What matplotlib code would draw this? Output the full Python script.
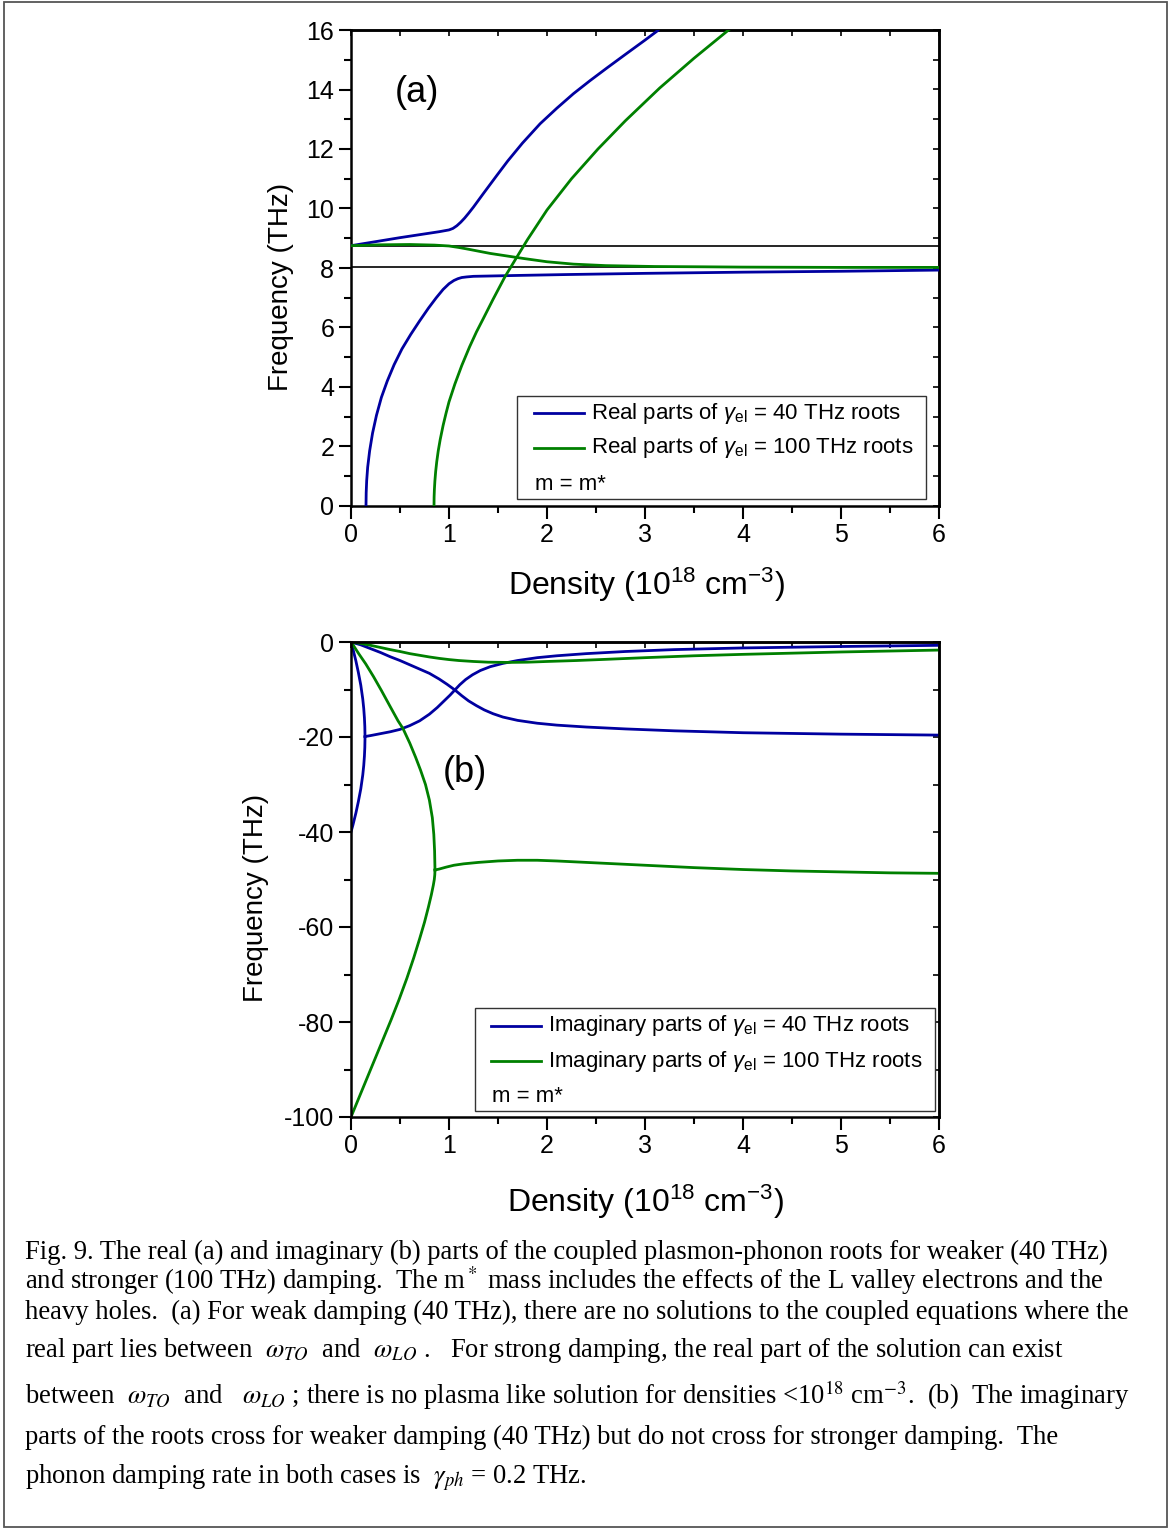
import matplotlib
matplotlib.use("Agg")
import matplotlib.pyplot as plt
from matplotlib.lines import Line2D
from matplotlib.patches import Rectangle
from matplotlib.ticker import MultipleLocator

plt.rcParams['font.family'] = ['Liberation Sans', 'DejaVu Sans']
plt.rcParams['mathtext.fontset'] = 'custom'
plt.rcParams['mathtext.rm'] = 'Liberation Sans'
plt.rcParams['mathtext.it'] = 'Liberation Sans:italic'
plt.rcParams['mathtext.bf'] = 'Liberation Sans:bold'
plt.rcParams['axes.unicode_minus'] = False

# ---------------- panel (a): real parts (THz) vs density (1e18 cm^-3)
omega_TO = 8.02
omega_LO = 8.74

re40_upper_n = [0, 0.5, 0.9, 1.0, 1.04, 1.08, 1.12, 1.16, 1.2, 1.25, 1.35, 1.49, 1.6,
                1.75, 1.93, 2.1, 2.27, 2.44, 2.61, 2.8, 3.0, 3.13, 3.14]
re40_upper_f = [8.75, 9.02, 9.22, 9.28, 9.33, 9.42, 9.54, 9.68, 9.84, 10.05, 10.5,
                11.12, 11.6, 12.2, 12.85, 13.37, 13.86, 14.3, 14.72, 15.18, 15.66,
                15.98, 16.02]

re40_lower_n = [0.153, 0.155, 0.16, 0.17, 0.19, 0.22, 0.26, 0.31, 0.37, 0.44, 0.52,
                0.61, 0.70, 0.79, 0.87, 0.94, 1.0, 1.05, 1.09, 1.13, 1.18, 1.25, 1.4,
                1.7, 2.2, 3.0, 4.0, 5.0, 6.0]
re40_lower_f = [0, 0.45, 0.85, 1.3, 1.85, 2.45, 3.05, 3.65, 4.2, 4.75, 5.28, 5.77,
                6.22, 6.65, 7.0, 7.28, 7.47, 7.58, 7.64, 7.68, 7.70, 7.72, 7.73, 7.75,
                7.78, 7.82, 7.86, 7.89, 7.93]

re100_phonon_n = [0, 0.3, 0.6, 0.85, 1.0, 1.1, 1.2, 1.31, 1.42, 1.6, 1.76, 2.0, 2.27,
                  2.6, 3.1, 3.6, 4.0, 5.0, 6.0]
re100_phonon_f = [8.75, 8.78, 8.79, 8.77, 8.74, 8.69, 8.63, 8.56, 8.49, 8.40, 8.32,
                  8.21, 8.13, 8.08, 8.05, 8.04, 8.03, 8.02, 8.02]

re100_plasma_n = [0.847, 0.848, 0.851, 0.856, 0.864, 0.875, 0.89, 0.91, 0.94, 0.97,
                  1.0, 1.06, 1.13, 1.21, 1.28, 1.35, 1.45, 1.57, 1.68, 1.8, 2.0, 2.25,
                  2.52, 2.8, 3.15, 3.5, 3.86]
re100_plasma_f = [0, 0.3, 0.56, 0.84, 1.16, 1.49, 1.85, 2.23, 2.71, 3.12, 3.5, 4.1,
                  4.72, 5.35, 5.85, 6.3, 6.95, 7.7, 8.3, 8.95, 9.95, 11.0, 12.0,
                  12.95, 14.05, 15.05, 16.02]

# ---------------- panel (b): imaginary parts (THz)
im40_phonon_n = [0, 0.1, 0.2, 0.3, 0.4, 0.5, 0.6, 0.7, 0.8, 0.9, 0.98, 1.06, 1.13,
                 1.2, 1.28, 1.36, 1.45, 1.55, 1.7, 1.9, 2.1, 2.4, 2.8, 3.3, 4.0, 5.0, 6.0]
im40_phonon_f = [0, -0.6, -1.4, -2.2, -3.1, -3.9, -4.8, -5.7, -6.6, -7.8, -8.9, -10.1,
                 -11.3, -12.4, -13.4, -14.3, -15.1, -15.8, -16.5, -17.1, -17.5, -17.9,
                 -18.3, -18.7, -19.1, -19.4, -19.6]

im40_top_n = [0, 0.02, 0.05, 0.075, 0.1, 0.12, 0.13, 0.137, 0.141, 0.143]
im40_top_f = [0, -1.5, -4.0, -6.4, -9.1, -12.0, -14.0, -16.0, -17.8, -19.9]

im40_bot_n = [0, 0.02, 0.05, 0.075, 0.1, 0.12, 0.13, 0.137, 0.141, 0.143]
im40_bot_f = [-40, -38.5, -36.0, -33.6, -30.9, -28.0, -26.0, -24.0, -22.2, -20.1]

im40_pair_n = [0.143, 0.2, 0.3, 0.4, 0.5, 0.6, 0.7, 0.8, 0.88, 0.95, 1.01, 1.06,
               1.11, 1.17, 1.24, 1.32, 1.42, 1.55, 1.7, 1.9, 2.1, 2.4, 2.8, 3.3, 4.0,
               5.0, 6.0]
im40_pair_f = [-19.9, -19.7, -19.3, -18.9, -18.4, -17.6, -16.6, -15.2, -13.8, -12.4,
               -11.2, -10.1, -9.0, -7.9, -6.9, -6.0, -5.2, -4.5, -3.9, -3.3, -2.9,
               -2.45, -2.0, -1.6, -1.25, -0.95, -0.7]

im100_phonon_n = [0, 0.1, 0.2, 0.3, 0.4, 0.5, 0.6, 0.7, 0.8, 0.9, 1.0, 1.1, 1.25, 1.4,
                  1.6, 1.8, 2.0, 2.3, 2.6, 3.0, 3.5, 4.0, 4.5, 5.0, 5.5, 6.0]
im100_phonon_f = [0, -0.3, -0.7, -1.15, -1.6, -2.0, -2.45, -2.8, -3.15, -3.45, -3.7,
                  -3.9, -4.1, -4.25, -4.3, -4.25, -4.1, -3.9, -3.65, -3.3, -2.9, -2.6,
                  -2.35, -2.1, -1.9, -1.7]

im100_top_n = [0, 0.03, 0.08, 0.15, 0.23, 0.31, 0.4, 0.48, 0.53, 0.6, 0.66, 0.71,
               0.76, 0.8, 0.83, 0.845, 0.853, 0.857]
im100_top_f = [0, -0.9, -2.5, -4.6, -7.3, -10.2, -13.6, -16.6, -18.2, -21.3, -24.3,
               -27.0, -30.0, -33.3, -37.0, -40.5, -44.0, -48.0]

im100_bot_n = [0, 0.04, 0.1, 0.17, 0.25, 0.33, 0.41, 0.49, 0.57, 0.64, 0.7, 0.75,
               0.79, 0.82, 0.84, 0.85, 0.855, 0.857]
im100_bot_f = [-100, -98, -95, -91.5, -87.5, -83.5, -79.5, -75.3, -70.8, -66.5, -62.5,
               -59, -55.8, -53.2, -51.2, -50, -49, -48]

im100_pair_n = [0.857, 0.9, 0.97, 1.05, 1.15, 1.3, 1.5, 1.7, 1.9, 2.1, 2.4, 2.7, 3.0,
                3.5, 4.0, 4.5, 5.0, 5.5, 6.0]
im100_pair_f = [-48.0, -47.8, -47.4, -47.0, -46.7, -46.4, -46.1, -45.95, -45.95,
                -46.1, -46.4, -46.7, -47.0, -47.5, -47.9, -48.2, -48.4, -48.6, -48.7]

BLUE = '#0000A0'
GREEN = '#008000'
LW = 2.0

W, H = 1170, 1529
fig = plt.figure(figsize=(W / 100, H / 100), dpi=100)


def fx(px):
    return px / W


def fy(py):
    return 1 - py / H


def make_axes(top_px, bottom_px):
    ax = fig.add_axes([fx(351), fy(bottom_px), fx(939) - fx(351), fy(top_px) - fy(bottom_px)])
    for s in ax.spines.values():
        s.set_linewidth(1.8)
    ax.tick_params(which='major', direction='out', length=9, width=1.5, labelsize=18, pad=3)
    ax.tick_params(which='minor', direction='out', length=5, width=1.5)
    ax.set_xlim(0, 6)
    ax.xaxis.set_major_locator(MultipleLocator(1))
    ax.xaxis.set_minor_locator(MultipleLocator(0.5))
    top = ax.secondary_xaxis('top')
    top.xaxis.set_major_locator(MultipleLocator(0.5))
    top.tick_params(direction='in', length=4, width=1.2, labeltop=False)
    top.spines['top'].set_linewidth(1.8)
    return ax


def add_right(ax, step):
    right = ax.secondary_yaxis('right')
    right.yaxis.set_major_locator(MultipleLocator(step))
    right.tick_params(direction='in', length=4, width=1.2, labelright=False)
    right.spines['right'].set_linewidth(1.8)


def legend_box(ax, box, entries, handle_x, text_x, rows_y, note_xy, top_px, bottom_px):
    def ax_x(px):
        return (px - 351) / (939 - 351)

    def ax_y(py):
        return (bottom_px - py) / (bottom_px - top_px)

    x0, y0, x1, y1 = box
    ax.add_patch(Rectangle((ax_x(x0), ax_y(y1)), ax_x(x1) - ax_x(x0), ax_y(y0) - ax_y(y1),
                           transform=ax.transAxes, facecolor='white', edgecolor='#333333',
                           linewidth=1.0, zorder=5))
    for (line, label), ry in zip(entries, rows_y):
        ax.add_line(Line2D([ax_x(handle_x[0]), ax_x(handle_x[1])], [ax_y(ry), ax_y(ry)],
                           transform=ax.transAxes, color=line.get_color(),
                           linewidth=line.get_linewidth(), zorder=6))
        ax.text(ax_x(text_x), ax_y(ry), label, transform=ax.transAxes, fontsize=16,
                va='center', ha='left', zorder=6)
    ax.text(ax_x(note_xy[0]), ax_y(note_xy[1]), 'm = m*', transform=ax.transAxes,
            fontsize=16, va='center', ha='left', zorder=6)


# ---------------- panel (a)
ax_a = make_axes(30, 506)
ax_a.set_ylim(0, 16)
ax_a.yaxis.set_major_locator(MultipleLocator(2))
ax_a.yaxis.set_minor_locator(MultipleLocator(1))
add_right(ax_a, 1)
ax_a.axhline(omega_LO, color='black', linewidth=1.2, zorder=2)
ax_a.axhline(omega_TO, color='black', linewidth=1.2, zorder=2)
la1, = ax_a.plot(re40_upper_n, re40_upper_f, color=BLUE, lw=LW, zorder=3)
ax_a.plot(re40_lower_n, re40_lower_f, color=BLUE, lw=LW, zorder=3)
la2, = ax_a.plot(re100_phonon_n, re100_phonon_f, color=GREEN, lw=LW, zorder=3)
ax_a.plot(re100_plasma_n, re100_plasma_f, color=GREEN, lw=LW, zorder=3)
ax_a.text((417 - 351) / 588, (506 - 93) / 476, '(a)', transform=ax_a.transAxes,
          fontsize=26, ha='center', va='center')
legend_box(ax_a, (517, 396, 926, 499),
           [(la1, r'Real parts of $\gamma_{\rm el}$ = 40 THz roots'),
            (la2, r'Real parts of $\gamma_{\rm el}$ = 100 THz roots')],
           (534, 584), 591, (413, 448), (535, 484), 30, 506)

# ---------------- panel (b)
ax_b = make_axes(642, 1117)
ax_b.set_ylim(-100, 0)
ax_b.yaxis.set_major_locator(MultipleLocator(20))
ax_b.yaxis.set_minor_locator(MultipleLocator(10))
add_right(ax_b, 10)
lb1, = ax_b.plot(im40_phonon_n, im40_phonon_f, color=BLUE, lw=LW)
ax_b.plot(im40_top_n, im40_top_f, color=BLUE, lw=LW)
ax_b.plot(im40_bot_n, im40_bot_f, color=BLUE, lw=LW)
ax_b.plot(im40_pair_n, im40_pair_f, color=BLUE, lw=LW)
lb2, = ax_b.plot(im100_phonon_n, im100_phonon_f, color=GREEN, lw=LW)
ax_b.plot(im100_top_n, im100_top_f, color=GREEN, lw=LW)
ax_b.plot(im100_bot_n, im100_bot_f, color=GREEN, lw=LW)
ax_b.plot(im100_pair_n, im100_pair_f, color=GREEN, lw=LW)
ax_b.text((465 - 351) / 588, (1117 - 773) / 475, '(b)', transform=ax_b.transAxes,
          fontsize=26, ha='center', va='center')
legend_box(ax_b, (475, 1008, 935, 1111),
           [(lb1, r'Imaginary parts of $\gamma_{\rm el}$ = 40 THz roots'),
            (lb2, r'Imaginary parts of $\gamma_{\rm el}$ = 100 THz roots')],
           (491, 541), 548, (1026, 1061), (492, 1096), 642, 1117)

# ---------------- axis titles
fig.text(fx(281), fy(287), 'Frequency (THz)', rotation=90, fontsize=20, ha='center', va='center')
fig.text(fx(256), fy(898), 'Frequency (THz)', rotation=90, fontsize=20, ha='center', va='center')
fig.text(fx(646), fy(585), r'Density (10$^{18}$ cm$^{-3}$)', fontsize=23, ha='center', va='center')
fig.text(fx(645), fy(1202), r'Density (10$^{18}$ cm$^{-3}$)', fontsize=23, ha='center', va='center')

# ---------------- caption
caption = [
    (1259, 'Fig. 9. The real (a) and imaginary (b) parts of the coupled plasmon-phonon roots for weaker (40 THz)'),
    (1289, r'and stronger (100 THz) damping.  The m$^*$ mass includes the effects of the L valley electrons and the'),
    (1319, 'heavy holes.  (a) For weak damping (40 THz), there are no solutions to the coupled equations where the'),
    (1357, r'real part lies between  $\omega_{TO}$  and  $\omega_{LO}$ .   For strong damping, the real part of the solution can exist'),
    (1404, r'between  $\omega_{TO}$  and   $\omega_{LO}$ ; there is no plasma like solution for densities <10$^{18}$ cm$^{-3}$.  (b)  The imaginary'),
    (1444, 'parts of the roots cross for weaker damping (40 THz) but do not cross for stronger damping.  The'),
    (1483, r'phonon damping rate in both cases is  $\gamma_{ph}$ = 0.2 THz.'),
]
for y, line in caption:
    fig.text(fx(25), fy(y), line, fontsize=19.2, family='Liberation Serif',
             math_fontfamily='stix', ha='left', va='baseline')

# ---------------- outer frame
fig.add_artist(Rectangle((fx(4), fy(1527)), fx(1167) - fx(4), fy(2) - fy(1527),
                         transform=fig.transFigure, fill=False, edgecolor='#555555',
                         linewidth=1.3))

fig.savefig('out.png', dpi=100, facecolor='white')
